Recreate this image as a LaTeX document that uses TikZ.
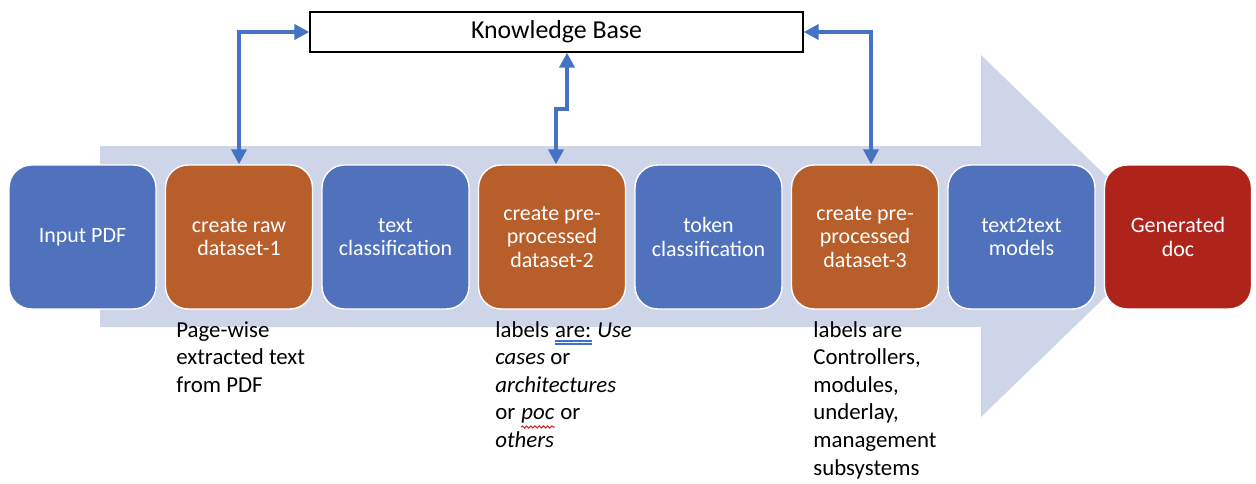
\documentclass[tikz,border=0pt]{standalone}
\usepackage{fontspec}
\setmainfont{Carlito}
\usetikzlibrary{arrows.meta,decorations.pathmorphing}

\definecolor{stepblue}{RGB}{80,114,189}
\definecolor{steporange}{RGB}{183,94,42}
\definecolor{stepred}{RGB}{174,35,26}
\definecolor{bandgrey}{RGB}{207,213,232}
\definecolor{linkblue}{RGB}{68,114,196}
\definecolor{checkblue}{RGB}{60,110,220}
\definecolor{checkred}{RGB}{214,40,40}

% proofing marks under single words
\newcommand{\gramline}[1]{\tikz[baseline=(gw.base),x=1pt,y=1pt]{\node[inner sep=0pt] (gw) {#1};
  \draw[checkblue, line width=0.7pt] ([yshift=-2.2pt]gw.base west) -- ([yshift=-2.2pt]gw.base east);
  \draw[checkblue, line width=0.7pt] ([yshift=-3.9pt]gw.base west) -- ([yshift=-3.9pt]gw.base east);}}
\newcommand{\spellline}[1]{\tikz[baseline=(sw.base),x=1pt,y=1pt]{\node[inner sep=0pt] (sw) {#1};
  \draw[checkred, line width=0.6pt, decorate, decoration={snake, amplitude=0.6pt, segment length=2.4pt}]
    ([yshift=-4pt]sw.base west) -- ([yshift=-4pt]sw.base east);}}

\tikzset{
  stepbox/.style={rounded corners=0.45cm, draw=white, line width=0.8pt,
    minimum width=2.94cm, minimum height=2.88cm, text=white, align=center,
    font=\fontsize{12.5}{13.5}\selectfont},
  kbarrow/.style={draw=linkblue, line width=2.2pt,
    {Triangle[length=0.3cm,width=0.3cm]}-{Triangle[length=0.3cm,width=0.3cm]}},
  note/.style={anchor=north west, align=left, inner sep=0pt,
    font=\fontsize{13}{15.7}\selectfont},
}

\begin{document}
\begin{tikzpicture}[x=0.02cm,y=-0.02cm]
        \useasboundingbox (0,0) rectangle (1256,483);
        % Big background arrow
        \fill[bandgrey] (100,146) -- (981,146) -- (981,55) -- (1168,236) -- (981,417) -- (981,327) -- (100,327) -- cycle;
        % Knowledge base
        \node[draw=black, line width=0.8pt, minimum width=9.86cm, minimum height=0.8cm,
          font=\fontsize{14.7}{17}\selectfont] (kb) at (556.5,32) {Knowledge Base};
        % Pipeline steps
        \node[stepbox, fill=stepblue] (inpdf) at (82.5,237) {Input PDF};
        \node[stepbox, fill=steporange] (rawds) at (239,237) {create raw\\dataset-1};
        \node[stepbox, fill=stepblue] (txtcls) at (395.5,237) {text\\classification};
        \node[stepbox, fill=steporange] (preds2) at (552,237) {create pre-\\processed\\dataset-2};
        \node[stepbox, fill=stepblue] (tokcls) at (708.5,237) {token\\classification};
        \node[stepbox, fill=steporange] (preds3) at (865,237) {create pre-\\processed\\dataset-3};
        \node[stepbox, fill=stepblue] (ttmod) at (1021.5,237) {text2text\\models};
        \node[stepbox, fill=stepred] (gendoc) at (1178,237) {Generated\\doc};
        % Links to knowledge base
        \draw[kbarrow] (rawds.north) |- (kb.west);
        \draw[kbarrow] ([xshift=0.08cm]preds2.north) -- ++(0,-55) -| ([xshift=0.21cm]kb.south);
        \draw[kbarrow] ([xshift=0.12cm]preds3.north) |- (kb.east);
        % Notes
        \node[note] (rawnote) at (176,321) {Page-wise\\extracted text\\from PDF};
        \node[note] (pre2note) at (495,321) {labels \gramline{are:} \textit{Use}\\\textit{cases} or\\\textit{architectures}\\or \spellline{\textit{poc}} or\\\textit{others}};
        \node[note] (pre3note) at (813,321) {labels are\\Controllers,\\modules,\\underlay,\\management\\subsystems};
      \end{tikzpicture}
\end{document}
